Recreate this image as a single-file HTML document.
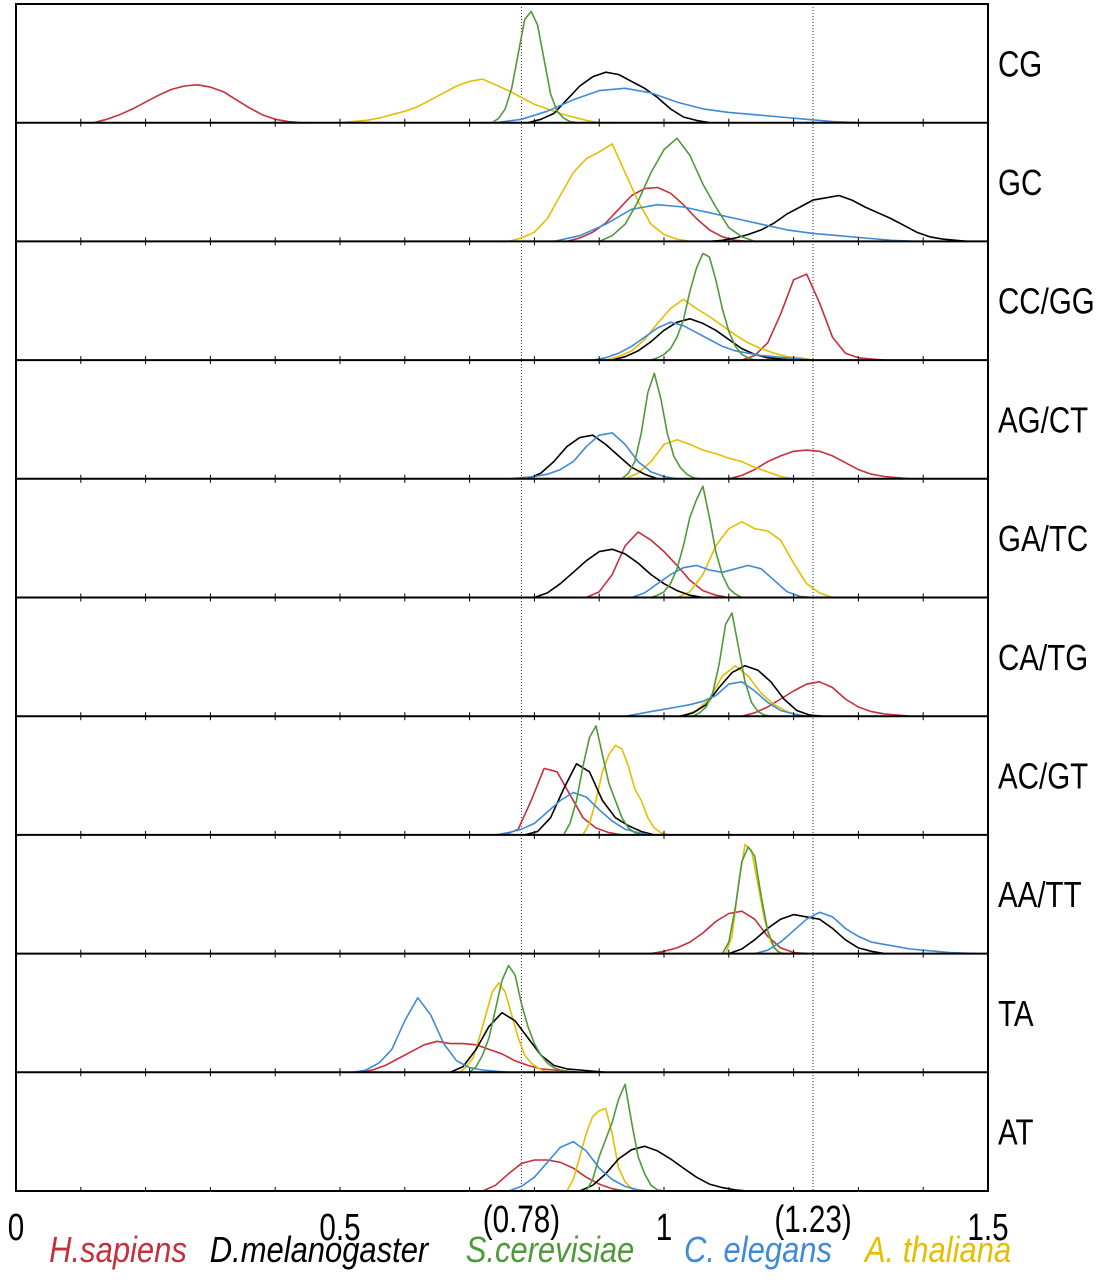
<!DOCTYPE html>
<html><head><meta charset="utf-8"><style>
html,body{margin:0;padding:0;background:#fff;}
svg{display:block;}
text{font-family:"Liberation Sans",sans-serif;}
</style></head><body>
<svg id="chart" width="1103" height="1280" viewBox="0 0 1103 1280" xmlns="http://www.w3.org/2000/svg"></svg>
<script>
const panelLabels=['CG','GC','CC/GG','AG/CT','GA/TC','CA/TG','AC/GT','AA/TT','TA','AT'];
const xTicks=[0,0.5,1,1.5];
const refLines=[0.78,1.23];
const speciesNames=['H.sapiens','D.melanogaster','S.cerevisiae','C. elegans','A. thaliana'];
const speciesColors=['#c4303c','#000000','#4e9a3a','#3f8ad8','#e6bd00'];
// each entry: [startX, stepX, heights (fraction of panel)]
const sapiens=[
[0.12,0.02,[0,.03,.07,.12,.18,.24,.29,.32,.33,.31,.27,.2,.13,.07,.03,.01,0]],
[0.85,0.02,[0,.03,.08,.16,.28,.4,.46,.47,.42,.32,.2,.1,.04,.01,0]],
[1.12,0.02,[0,.04,.15,.4,.7,.75,.5,.2,.06,.02,.01,0]],
[1.10,0.02,[0,.03,.08,.15,.2,.24,.25,.24,.2,.14,.08,.04,.02,.01,0]],
[0.88,0.02,[0,.05,.2,.45,.57,.5,.4,.28,.15,.06,.02,0]],
[1.12,0.02,[0,.03,.08,.15,.22,.28,.3,.25,.15,.08,.04,.02,.01,0]],
[0.755,0.02,[0,.05,.3,.58,.55,.35,.15,.06,.02,0]],
[0.98,0.02,[0,.02,.05,.1,.18,.28,.35,.37,.3,.15,.05,.01,0]],
[0.53,0.02,[0,.02,.06,.12,.18,.24,.27,.25,.25,.24,.2,.16,.1,.06,.03,.02,.01,0]],
[0.72,0.02,[0,.05,.15,.24,.27,.27,.25,.2,.12,.06,.02,0]]];
const melanogaster=[
[0.79,0.02,[0,.03,.08,.2,.32,.4,.44,.42,.36,.3,.22,.12,.05,.02,0]],
[1.07,0.02,[0,.01,.03,.06,.1,.16,.24,.3,.36,.38,.4,.36,.3,.25,.2,.14,.08,.04,.02,.01,0]],
[0.92,0.02,[0,.03,.08,.16,.26,.33,.36,.32,.26,.18,.1,.05,.02,.01,0]],
[0.79,0.02,[0,.05,.15,.28,.36,.38,.3,.2,.1,.04,0]],
[0.80,0.02,[0,.04,.12,.22,.32,.4,.42,.38,.3,.2,.12,.06,.02,0]],
[1.025,0.02,[0,.03,.1,.25,.38,.44,.4,.3,.15,.05,.01,0]],
[0.785,0.02,[0,.03,.15,.4,.62,.55,.3,.15,.08,.03,0]],
[1.10,0.02,[0,.04,.12,.22,.3,.34,.32,.3,.22,.12,.05,.02,0]],
[0.67,0.02,[0,.05,.2,.4,.52,.45,.3,.15,.06,.03,.02,.01,0]],
[0.87,0.02,[0,.05,.15,.28,.36,.39,.35,.28,.2,.12,.06,.03,.01,0]]];
const cerevisiae=[
[0.735,0.01,[0,.04,.12,.3,.6,.9,.97,.85,.55,.25,.1,.04,.01,0]],
[0.90,0.02,[0,.05,.15,.35,.6,.8,.9,.75,.5,.3,.12,.04,0]],
[0.98,0.01,[0,.02,.05,.1,.2,.35,.6,.8,.93,.9,.7,.45,.25,.12,.05,.02,0]],
[0.935,0.01,[0,.05,.15,.4,.75,.92,.7,.4,.2,.1,.04,.01,0]],
[0.98,0.01,[0,.02,.05,.12,.25,.45,.7,.85,.97,.7,.4,.2,.08,.03,0]],
[1.045,0.01,[0,.03,.08,.2,.45,.8,.9,.6,.3,.12,.04,.01,0]],
[0.845,0.01,[0,.1,.3,.6,.85,.95,.7,.45,.3,.15,.06,.02,0]],
[1.09,0.01,[0,.1,.4,.8,.93,.85,.5,.2,.05,0]],
[0.70,0.01,[0,.05,.15,.3,.55,.8,.93,.85,.6,.4,.25,.15,.08,.04,.02,.01,0]],
[0.88,0.01,[0,.1,.3,.45,.6,.8,.93,.6,.3,.15,.05,.01,0]]];
const elegans=[
[0.74,0.04,[0,.03,.1,.2,.28,.3,.26,.18,.12,.09,.07,.05,.03,.01,0]],
[0.83,0.04,[0,.05,.15,.28,.32,.3,.25,.2,.15,.1,.07,.05,.03,.01,0]],
[0.89,0.02,[0,.02,.06,.12,.2,.28,.33,.3,.24,.18,.12,.08,.06,.04,.03,.02,.01,0]],
[0.76,0.02,[0,.01,.02,.04,.08,.15,.28,.38,.4,.3,.15,.06,.02,0]],
[0.95,0.02,[0,.04,.12,.2,.26,.28,.24,.22,.25,.28,.25,.15,.05,.01,0]],
[0.94,0.02,[0,.02,.04,.06,.08,.1,.13,.18,.28,.3,.22,.12,.05,.02,0]],
[0.74,0.02,[0,.02,.05,.1,.2,.3,.37,.33,.22,.12,.05,.02,0]],
[1.14,0.02,[0,.03,.1,.2,.3,.36,.32,.22,.15,.1,.08,.06,.04,.03,.02,.01,.005,0]],
[0.52,0.02,[0,.02,.08,.2,.45,.65,.5,.25,.1,.04,.02,.01,0]],
[0.76,0.02,[0,.04,.12,.25,.38,.43,.35,.2,.1,.04,.01,0]]];
const thaliana=[
[0.50,0.02,[0,.01,.02,.04,.07,.1,.14,.2,.26,.32,.36,.38,.33,.28,.22,.16,.12,.08,.05,.02,0]],
[0.76,0.02,[0,.03,.08,.2,.4,.6,.72,.78,.85,.6,.35,.15,.06,.02,0]],
[0.91,0.02,[0,.03,.08,.18,.32,.45,.53,.45,.38,.3,.22,.15,.1,.06,.03,.02,0]],
[0.94,0.02,[0,.05,.15,.3,.34,.3,.25,.22,.18,.15,.1,.06,.02,0]],
[1.02,0.02,[0,.05,.2,.45,.6,.66,.6,.58,.5,.3,.12,.04,0]],
[1.03,0.02,[0,.05,.15,.35,.44,.35,.2,.1,.04,0]],
[0.875,0.01,[0,.1,.3,.55,.7,.78,.75,.6,.4,.3,.15,.06,.02,0]],
[1.095,0.01,[0,.15,.6,.95,.9,.6,.3,.1,.02,0]],
[0.685,0.01,[0,.05,.12,.3,.5,.7,.78,.7,.5,.3,.15,.08,.04,.01,0]],
[0.85,0.01,[0,.1,.3,.5,.65,.7,.72,.5,.2,.08,.02,0]]];
const series=[sapiens,melanogaster,cerevisiae,elegans,thaliana];
const drawOrder=[0,4,1,3,2];

const NS='http://www.w3.org/2000/svg';
const svg=document.getElementById('chart');
const L=16,R=988,T=4,B=1191,N=panelLabels.length,PH=(B-T)/N;
const xs=v=>L+v/1.5*(R-L);
const ys=(p,f)=>T+(p+1)*PH-f*(PH-4);
function mk(tag,attrs,parent){const e=document.createElementNS(NS,tag);for(const k in attrs)e.setAttribute(k,attrs[k]);(parent||svg).appendChild(e);return e;}

for(const r of refLines){
  const l=mk('line',{x1:xs(r),x2:xs(r),y1:T,y2:B,stroke:'#333','stroke-width':1,'stroke-dasharray':'1,2'});
  
  
}
for(let p=0;p<N;p++){
  const g=mk('g',{});
  
  
  for(const s of drawOrder){
    const [x0,dx,vals]=series[s][p];
    const pts=vals.map((v,i)=>xs(x0+i*dx).toFixed(1)+','+ys(p,v).toFixed(1)).join(' ');
    const pl=mk('polyline',{points:pts,fill:'none',stroke:speciesColors[s],'stroke-width':1.6,'stroke-linejoin':'round'},g);
    
    
  }
  const yb=T+(p+1)*PH;
  for(let t=1;t<15;t++){
    mk('line',{x1:xs(t/10),x2:xs(t/10),y1:yb-4,y2:yb+(p<N-1?4:0),stroke:'#000','stroke-width':1},g);
  }
  if(p<N-1) mk('line',{x1:L,x2:R,y1:yb,y2:yb,stroke:'#000','stroke-width':2},g);
  const tx=mk('text',{x:998,y:T+p*PH+PH/2+13,'font-size':36,fill:'#000',transform:`translate(998,0) scale(0.82,1) translate(-998,0)`},g);
  tx.textContent=panelLabels[p];
  
  
}
const fr=mk('rect',{x:L,y:T,width:R-L,height:B-T,fill:'none',stroke:'#000','stroke-width':2});


function ctext(str,x,y,size,color,italic,name,sx){
  const t=mk('text',{x:x,y:y,'font-size':size,fill:color,'text-anchor':'middle',transform:`translate(${x},0) scale(${sx},1) translate(${-x},0)`});
  if(italic)t.setAttribute('font-style','italic');
  t.textContent=str;
  
  
}
for(const v of xTicks) ctext(String(v),xs(v),1240,38,'#000',false,'x-tick-label',0.78);
for(const r of refLines) ctext('('+r+')',xs(r),1232,38,'#000',false,'x-ref-label',0.78);
const legX=[118,319,550,758,938];
for(let i=0;i<5;i++) ctext(speciesNames[i],legX[i],1262,36,speciesColors[i],true,'legend-entry',0.86);
</script>
</body></html>
